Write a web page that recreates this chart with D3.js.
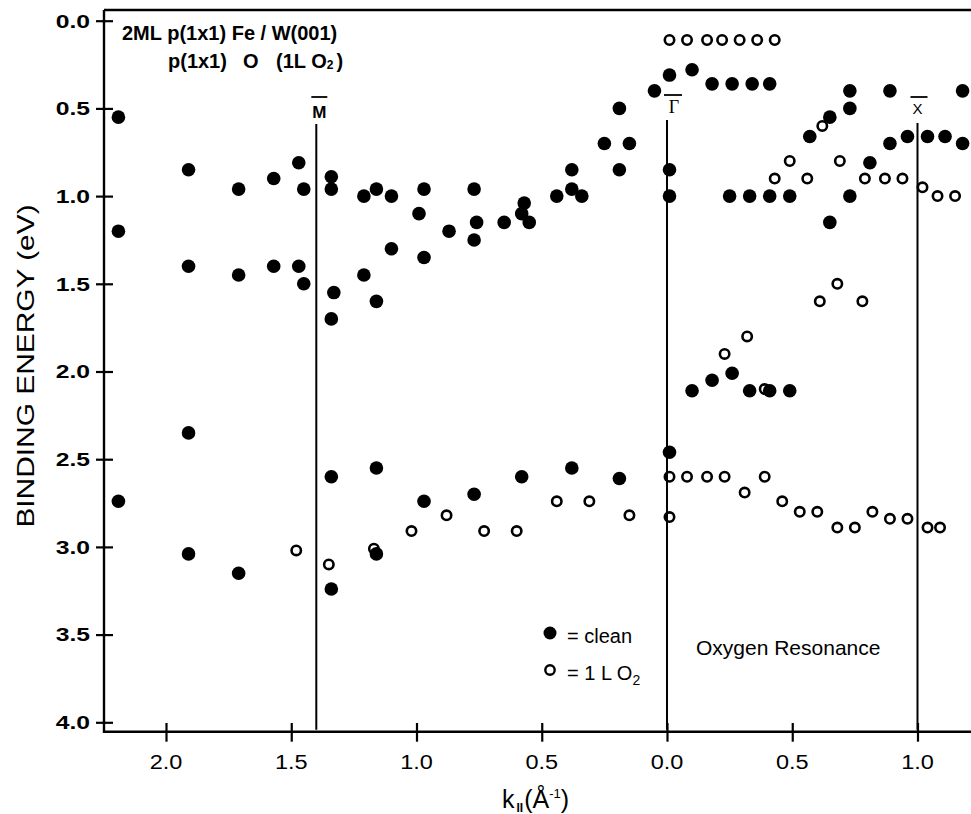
<!DOCTYPE html>
<html>
<head>
<meta charset="utf-8">
<script src="https://cdn.jsdelivr.net/npm/d3@7"></script>
<style>
  body { margin: 0; background: #fff; }
  svg { display: block; font-family: "Liberation Sans", Arial, sans-serif; }
</style>
</head>
<body>
<div id="chart"></div>
<script>
// k along the path: negative = towards M, positive = towards X (1/Angstrom)
const cleanK = [-2.19, -2.19, -2.19, -1.91, -1.91, -1.91, -1.91, -1.71, -1.71, -1.71,
  -1.57, -1.57, -1.47, -1.47, -1.45, -1.45, -1.34, -1.34, -1.33, -1.34, -1.34, -1.34,
  -1.21, -1.21, -1.16, -1.16, -1.16, -1.16, -1.10, -1.10, -0.99, -0.97, -0.97, -0.97,
  -0.87, -0.77, -0.76, -0.77, -0.77, -0.65, -0.57, -0.58, -0.55, -0.58, -0.44, -0.38,
  -0.38, -0.34, -0.38, -0.25, -0.19, -0.19, -0.19, -0.15, -0.05, 0.01, 0.01, 0.01, 0.01,
  0.10, 0.18, 0.26, 0.34, 0.41, 0.25, 0.33, 0.41, 0.49, 0.10, 0.18, 0.26, 0.33, 0.41, 0.49,
  0.57, 0.65, 0.73, 0.73, 0.65, 0.73, 0.81, 0.89, 0.89, 0.96, 1.04, 1.11, 1.18, 1.18];
const cleanE = [0.55, 1.20, 2.74, 0.85, 1.40, 2.35, 3.04, 0.96, 1.45, 3.15,
  0.90, 1.40, 0.81, 1.40, 0.96, 1.50, 0.89, 0.96, 1.55, 1.70, 2.60, 3.24,
  1.00, 1.45, 0.96, 1.60, 2.55, 3.04, 1.00, 1.30, 1.10, 0.96, 1.35, 2.74,
  1.20, 0.96, 1.15, 1.25, 2.70, 1.15, 1.04, 1.10, 1.15, 2.60, 1.00, 0.85,
  0.96, 1.00, 2.55, 0.70, 0.50, 0.85, 2.61, 0.70, 0.40, 0.31, 0.85, 1.00, 2.46,
  0.28, 0.36, 0.36, 0.36, 0.36, 1.00, 1.00, 1.00, 1.00, 2.11, 2.05, 2.01, 2.11, 2.11, 2.11,
  0.66, 0.55, 0.50, 0.40, 1.15, 1.00, 0.81, 0.40, 0.70, 0.66, 0.66, 0.66, 0.40, 0.70];

const oxK = [0.01, 0.08, 0.16, 0.22, 0.29, 0.36, 0.43,
  0.43, 0.49, 0.56, 0.62, 0.69, 0.79, 0.87, 0.94, 1.02, 1.08, 1.15,
  0.61, 0.68, 0.78, 0.32, 0.23, 0.39,
  0.01, 0.08, 0.16, 0.23, 0.31, 0.39, 0.46, 0.53, 0.60, 0.68, 0.75, 0.82, 0.89, 0.96, 1.04, 1.09,
  0.01, -0.15, -0.31, -0.44, -0.60, -0.73, -0.88, -1.02, -1.17, -1.35, -1.48];
const oxE = [0.11, 0.11, 0.11, 0.11, 0.11, 0.11, 0.11,
  0.90, 0.80, 0.90, 0.60, 0.80, 0.90, 0.90, 0.90, 0.95, 1.00, 1.00,
  1.60, 1.50, 1.60, 1.80, 1.90, 2.10,
  2.60, 2.60, 2.60, 2.60, 2.69, 2.60, 2.74, 2.80, 2.80, 2.89, 2.89, 2.80, 2.84, 2.84, 2.89, 2.89,
  2.83, 2.82, 2.74, 2.74, 2.91, 2.91, 2.82, 2.91, 3.01, 3.10, 3.02];

const yTicks = [0, 0.5, 1.0, 1.5, 2.0, 2.5, 3.0, 3.5, 4.0];
const xTicks = [-2.0, -1.5, -1.0, -0.5, 0, 0.5, 1.0];
const symK = [-1.40, 0, 1.0];
const symLabel = ["M", "\u0393", "X"];

const width = 971, height = 814;
const plotLeft = 104, plotRight = 971, plotTop = 10, plotBottom = 731.7;

const x = d3.scaleLinear().domain([-2.2475, 1.2136]).range([plotLeft, plotRight]);
const y = d3.scaleLinear().domain([0, 4]).range([20.7, 722.3]);

const svg = d3.select("#chart").append("svg")
  .attr("width", width)
  .attr("height", height);

// frame
svg.append("path")
  .attr("d", `M${plotLeft},${plotTop}H${plotRight}M${plotLeft},${plotTop}V${plotBottom}H${plotRight}`)
  .attr("fill", "none")
  .attr("stroke", "#000")
  .attr("stroke-width", 2.4);

// y axis, ticks cross the axis line
const yAxis = svg.append("g")
  .attr("transform", "translate(113,0)")
  .call(d3.axisLeft(y).tickValues(yTicks).tickFormat("").tickSize(17));
yAxis.select(".domain").remove();
yAxis.selectAll("line").attr("stroke", "#000").attr("stroke-width", 2.2);

// y tick labels are wide in the original, so they get stretched
svg.append("g")
  .selectAll("g")
  .data(yTicks)
  .join("g")
    .attr("transform", d => `translate(90,${y(d)}) scale(1.3,1)`)
  .append("text")
    .attr("text-anchor", "end")
    .attr("dy", "0.36em")
    .attr("font-size", 19)
    .attr("font-weight", "bold")
    .text(d3.format(".1f"));

// x axis
const xAxis = svg.append("g")
  .attr("transform", "translate(0,723)")
  .call(d3.axisBottom(x).tickValues(xTicks).tickFormat("").tickSize(18.7));
xAxis.select(".domain").remove();
xAxis.selectAll("line").attr("stroke", "#000").attr("stroke-width", 2.2);

svg.append("g")
  .selectAll("g")
  .data(xTicks)
  .join("g")
    .attr("transform", d => `translate(${x(d)},769) scale(1.12,1)`)
  .append("text")
    .attr("text-anchor", "middle")
    .attr("font-size", 21)
    .text(d => d3.format(".1f")(Math.abs(d)));

// axis titles
svg.append("text")
  .attr("transform", "translate(34,366) rotate(-90) scale(1.3,1)")
  .attr("text-anchor", "middle")
  .attr("font-size", 23)
  .text("BINDING ENERGY (eV)");

const kLab = svg.append("text")
  .attr("x", 502)
  .attr("y", 808)
  .attr("font-size", 25);
kLab.append("tspan").text("k");
kLab.append("tspan").attr("font-size", 12).attr("font-weight", "bold").attr("dx", 2).attr("dy", 4).text("II");
kLab.append("tspan").attr("dx", 1).attr("dy", -4).text("(\u00C5");
kLab.append("tspan").attr("font-size", 13).attr("dy", -10).text("-1");
kLab.append("tspan").attr("dy", 10).text(")");

// hollow (1 L O2)
svg.append("g")
  .selectAll("circle")
  .data(oxK.map((k, i) => ({k: k, e: oxE[i]})))
  .join("circle")
    .attr("cx", d => x(d.k))
    .attr("cy", d => y(d.e))
    .attr("r", 4.7)
    .attr("fill", "#fff")
    .attr("stroke", "#000")
    .attr("stroke-width", 2.6);

// symmetry point lines
const lineTops = [124, 120, 123];
svg.append("g")
  .selectAll("line")
  .data(symK)
  .join("line")
    .attr("x1", d => x(d)).attr("x2", d => x(d))
    .attr("y1", (d, i) => lineTops[i])
    .attr("y2", plotBottom - 2)
    .attr("stroke", "#000")
    .attr("stroke-width", 2);

// symmetry labels with bars
const symG = svg.append("g")
  .selectAll("g")
  .data(symK)
  .join("g")
    .attr("transform", d => `translate(${x(d)},0)`);
symG.append("text")
  .attr("x", (d, i) => [3, 7, 0][i])
  .attr("y", (d, i) => [118, 113, 114][i])
  .attr("text-anchor", "middle")
  .attr("font-size", (d, i) => [17, 18, 15][i])
  .attr("font-weight", (d, i) => i == 0 ? "bold" : "normal")
  .attr("font-family", (d, i) => i == 1 ? "'Liberation Serif', serif" : null)
  .text((d, i) => symLabel[i]);
symG.append("line")
  .attr("x1", (d, i) => [-5, -3, -7][i])
  .attr("x2", (d, i) => [11, 15, 10][i])
  .attr("y1", (d, i) => [97, 95, 97][i])
  .attr("y2", (d, i) => [97, 95, 97][i])
  .attr("stroke", "#000")
  .attr("stroke-width", 1.8);

// filled (clean)
svg.append("g")
  .selectAll("circle")
  .data(cleanK.map((k, i) => ({k: k, e: cleanE[i]})))
  .join("circle")
    .attr("cx", d => x(d.k))
    .attr("cy", d => y(d.e))
    .attr("r", 6.8)
    .attr("fill", "#000");

// title
svg.append("text")
  .attr("x", 122).attr("y", 40)
  .attr("font-size", 20).attr("font-weight", "bold")
  .text("2ML p(1x1) Fe / W(001)");
const t2 = svg.append("g").attr("font-size", 20).attr("font-weight", "bold");
t2.append("text").attr("x", 168).attr("y", 68).text("p(1x1)");
t2.append("text").attr("x", 243).attr("y", 68).text("O");
const t2b = t2.append("text").attr("x", 276).attr("y", 68);
t2b.append("tspan").text("(1L O");
t2b.append("tspan").attr("font-size", 12).attr("dy", 1).text("2");
t2b.append("tspan").attr("dx", 3).attr("dy", -1).text(")");

// legend
svg.append("circle").attr("cx", 550).attr("cy", 633).attr("r", 6.5).attr("fill", "#000");
svg.append("circle").attr("cx", 550).attr("cy", 670).attr("r", 4.7)
  .attr("fill", "#fff").attr("stroke", "#000").attr("stroke-width", 2.4);
svg.append("text").attr("x", 567).attr("y", 643).attr("font-size", 20).text("= clean");
const l2 = svg.append("text").attr("x", 567).attr("y", 680).attr("font-size", 20);
l2.append("tspan").text("= 1 L O");
l2.append("tspan").attr("font-size", 14).attr("dy", 5).text("2");

svg.append("text")
  .attr("x", 696).attr("y", 655)
  .attr("font-size", 21)
  .text("Oxygen Resonance");
</script>
</body>
</html>
